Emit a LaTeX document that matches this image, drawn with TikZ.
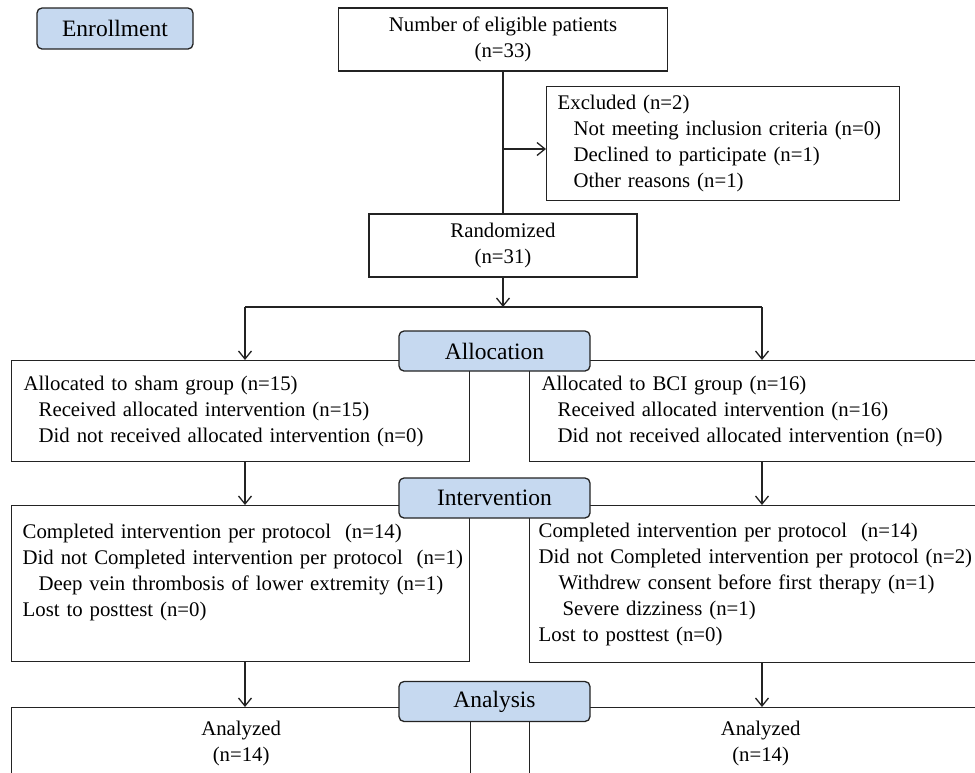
\documentclass[tikz,border=0pt]{standalone}
\usepackage{fontspec}
\setmainfont{Liberation Serif}
\usetikzlibrary{arrows.meta}
\definecolor{stageblue}{RGB}{198,217,240}
\definecolor{linegray}{RGB}{35,35,35}

\begin{document}
\begin{tikzpicture}[x=1pt,y=-1pt,line width=1.3pt,draw=linegray,
    >={Straight Barb[length=8pt,width=13pt]}]
    \tikzstyle{every node}=[font=\fontsize{20.8}{26}\selectfont,text=black]
    \tikzstyle{box}=[draw,rectangle,inner ysep=0pt,line width=1.3pt]
    \tikzstyle{leftbox}=[box,anchor=north west,align=left]
    \tikzstyle{stage}=[draw,rounded corners=5pt,fill=stageblue,inner sep=0pt,
        minimum width=191pt,minimum height=40pt,font=\fontsize{23.5}{28}\selectfont]

    \useasboundingbox (0,0) rectangle (975,772);
    \clip (0,0) rectangle (975,772);

    % enrollment part
    \node[box,align=center,minimum width=329pt,minimum height=63pt] (elig) at (503,39.5)
        {Number of eligible patients\\(n=33)};
    \node[leftbox,minimum width=353pt,minimum height=114pt,inner xsep=11pt,text width=331pt]
        (excl) at (546,86)
        {Excluded (n=2)\\
         \hspace*{16pt}Not meeting inclusion criteria (n=0)\\
         \hspace*{16pt}Declined to participate (n=1)\\
         \hspace*{16pt}Other reasons (n=1)};
    \node[box,align=center,minimum width=268pt,minimum height=63pt] (rand) at (503,245.5)
        {Randomized\\(n=31)};

    % allocation boxes
    \node[leftbox,minimum width=458pt,minimum height=101pt,inner xsep=12pt,text width=434pt]
        (alloc-L) at (11,360)
        {Allocated to sham group (n=15)\\
         \hspace*{15pt}Received allocated intervention (n=15)\\
         \hspace*{15pt}Did not received allocated intervention (n=0)};
    \node[leftbox,minimum width=462pt,minimum height=101pt,inner xsep=12pt,text width=438pt]
        (alloc-R) at (529,360)
        {Allocated to BCI group (n=16)\\
         \hspace*{16pt}Received allocated intervention (n=16)\\
         \hspace*{16pt}Did not received allocated intervention (n=0)};

    % intervention boxes
    \node[leftbox,minimum width=458pt,minimum height=156pt,inner xsep=11pt,text width=436pt]
        (int-L) at (11,505)
        {Completed intervention per protocol\ \ (n=14)\\
         \mbox{Did not Completed intervention per protocol\ \ (n=1)}\\
         \hspace*{16pt}Deep vein thrombosis of lower extremity (n=1)\\
         Lost to posttest (n=0)\\ \mbox{}};
    \node[leftbox,minimum width=462pt,minimum height=157pt,inner xsep=9pt,text width=444pt]
        (int-R) at (529,505)
        {Completed intervention per protocol\ \ (n=14)\\
         \mbox{Did not Completed intervention per protocol (n=2)}\\
         \hspace*{20pt}Withdrew consent before first therapy (n=1)\\
         \hspace*{24pt}Severe dizziness (n=1)\\
         Lost to posttest (n=0)};

    % analysis boxes
    \node[box,anchor=north west,align=center,minimum width=459pt,minimum height=71pt]
        (ana-L) at (11,707) {Analyzed\\(n=14)};
    \node[box,anchor=north west,align=center,minimum width=462pt,minimum height=71pt]
        (ana-R) at (529,707) {Analyzed\\(n=14)};

    % connectors
    \coordinate (split) at (503,149);
    \coordinate (fork) at (503,307);
    \coordinate (fork-L) at (245,307);
    \coordinate (fork-R) at (762,307);
    \draw (elig) -- (rand);
    \draw[->] (split) -- (split -| excl.west);
    \draw[->] (rand) -- (fork);
    \draw (fork-L) -- (fork-R);
    \draw[->] (fork-L) -- (fork-L |- alloc-L.north);
    \draw[->] (fork-R) -- (fork-R |- alloc-R.north);
    \foreach \src/\dst in {alloc/int,int/ana}
    \foreach \side/\x in {L/245,R/762}
    \draw[->] (\src-\side.south -| \x,0) -- (\dst-\side.north -| \x,0);

    % stage labels
    \node[stage,minimum width=156pt,minimum height=41pt] (S-Enrollment) at (115,28.5) {Enrollment};
    \foreach \name/\y in {Allocation/351,Intervention/498,Analysis/701.5}
    \node[stage] (S-\name) at (494.5,\y) {\name};
\end{tikzpicture}
\end{document}
